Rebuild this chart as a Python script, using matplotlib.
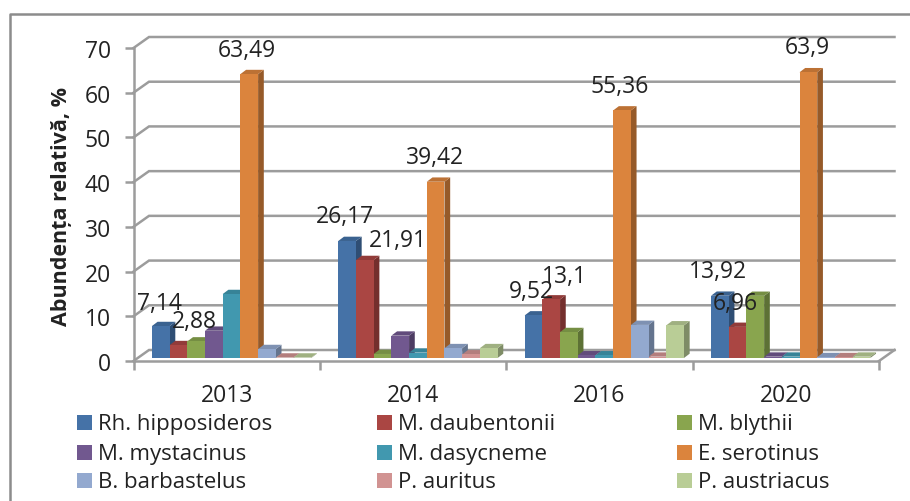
import matplotlib
matplotlib.use('Agg')
import matplotlib.pyplot as plt
from matplotlib.patches import Polygon, Rectangle

years = ['2013', '2014', '2016', '2020']
species = ['Rh. hipposideros', 'M. daubentonii', 'M. blythii',
           'M. mystacinus', 'M. dasycneme', 'E. serotinus',
           'B. barbastelus', 'P. auritus', 'P. austriacus']

v2013 = [7.14, 2.88, 3.7, 6.1, 14.3, 63.49, 2.0, 0.1, 0.1]
v2014 = [26.17, 21.91, 0.9, 5.0, 1.2, 39.42, 2.2, 0.8, 2.2]
v2016 = [9.52, 13.1, 5.8, 0.6, 0.6, 55.36, 7.4, 0.3, 7.3]
v2020 = [13.92, 6.96, 13.9, 0.3, 0.3, 63.9, 0.2, 0.2, 0.3]
values = [v2013, v2014, v2016, v2020]

# which bars carry a label: (group, series, text)
labels = [(0, 0, '7,14'), (0, 1, '2,88'), (0, 5, '63,49'),
          (1, 0, '26,17'), (1, 1, '21,91'), (1, 5, '39,42'),
          (2, 0, '9,52'), (2, 1, '13,1'), (2, 5, '55,36'),
          (3, 0, '13,92'), (3, 1, '6,96'), (3, 5, '63,9')]
# label offset from the bar top, pixels
offsets = [(-1, 23), (16, 24), (-2, 24),
           (-2, 25), (33, 20), (-1, 25),
           (-2, 24), (13, 23), (-2, 24),
           (-2, 25), (-2, 24), (-1, 25)]

front = ['#4572A7', '#AA4643', '#89A54E', '#71588F', '#4198AF',
         '#DB843D', '#93A9CF', '#D19392', '#B9CD96']
side = ['#2F4E74', '#742F2D', '#5D7135', '#4D3C62', '#2C6878',
        '#965A29', '#64748E', '#8F6463', '#7E8C66']
top = ['#3A6290', '#923B39', '#758E43', '#614B7B', '#378397',
       '#BC7134', '#7E91B2', '#B37E7D', '#9FB081']

FW, FH = 910, 502
X0, X1, Y0, Y70 = 133.5, 879.0, 362.0, 49.0
font = ['Open Sans', 'DejaVu Sans']
plt.rcParams['font.family'] = font
txt = '#222222'
gray = '#9c9c9c'

fig = plt.figure(figsize=(FW / 100, FH / 100), dpi=100)
ax = fig.add_axes([X0 / FW, 1 - Y0 / FH, (X1 - X0) / FW, (Y0 - Y70) / FH])
ax.set_xlim(0, 4)
ax.set_ylim(0, 70)
ax.patch.set_visible(False)

px_x = 4 / (X1 - X0)       # data units per pixel
px_y = 70 / (Y0 - Y70)
wall_dx, wall_dy = 15.5 * px_x, 11 * px_y
bar_w = 17.7 * px_x
start = 18.4 * px_x
base = 3 * px_y
dep_x, dep_y = 5.7 * px_x, 4.3 * px_y

# outer frame, no right or bottom edge in the crop
fig.add_artist(plt.Line2D([9.5 / FW, 9.5 / FW, 1], [0, 1 - 14.5 / FH, 1 - 14.5 / FH],
                          color='#8c8c8c', lw=1.8))

# back wall lines and floor
for g in range(0, 71, 10):
    ax.plot([0, wall_dx, 4 + wall_dx], [g, g + wall_dy, g + wall_dy],
            color=gray, lw=1.8, clip_on=False, zorder=1,
            solid_joinstyle='miter')
ax.plot([4, 4 + wall_dx], [0, wall_dy], color=gray, lw=1.8, clip_on=False, zorder=1)
ax.add_patch(Polygon([(0, 0), (wall_dx, wall_dy), (4 + wall_dx, wall_dy), (4, 0)],
                     facecolor='white', edgecolor='none', zorder=0.5, clip_on=False))

for s in ['top', 'right']:
    ax.spines[s].set_visible(False)
for s in ['left', 'bottom']:
    ax.spines[s].set_color(gray)
    ax.spines[s].set_linewidth(1.8)

z = 3
for g, vals in enumerate(values):
    for i, v in enumerate(vals):
        x = g + start + i * bar_w
        ax.bar(x, v, width=bar_w, bottom=base, align='edge', color=front[i],
               zorder=z + 0.2, clip_on=False)
        h = base + v
        ax.add_patch(Polygon([(x + bar_w, base), (x + bar_w + dep_x, base + dep_y),
                              (x + bar_w + dep_x, h + dep_y), (x + bar_w, h)],
                             facecolor=side[i], edgecolor='none', zorder=z, clip_on=False))
        ax.add_patch(Polygon([(x, h), (x + dep_x, h + dep_y),
                              (x + bar_w + dep_x, h + dep_y), (x + bar_w, h)],
                             facecolor=top[i], edgecolor='none', zorder=z + 0.1, clip_on=False))
        z += 1

for (g, i, t), off in zip(labels, offsets):
    x = g + start + (i + 0.5) * bar_w
    ax.annotate(t, xy=(x, base + values[g][i]), xytext=off,
                textcoords='offset pixels', ha='center', va='center',
                fontsize=16.5, color=txt, zorder=100, annotation_clip=False)

ax.set_yticks(range(0, 71, 10))
ax.set_xticks(range(5))
ax.set_xticklabels([])
ax.set_xticks([0.5, 1.5, 2.5, 3.5], minor=True)
ax.set_xticklabels(years, minor=True)
ax.tick_params(axis='y', length=6.2, width=1.8, color=gray, labelsize=16.5,
               labelcolor=txt, pad=10)
ax.tick_params(axis='x', which='major', length=6.5, width=1.8, color=gray)
ax.tick_params(axis='x', which='minor', length=0, labelsize=16.5, labelcolor=txt, pad=16)

fig.text(61 / FW, 1 - 206 / FH, 'Abundența relativă, %', rotation=90, ha='center',
         va='center', fontsize=15.5, fontweight='bold', color=txt)

# legend, three fixed columns
col_x = [77, 377, 677]
row_y = [423, 453, 481]
for n, name in enumerate(species):
    cx = col_x[n % 3]
    cy = row_y[n // 3]
    fig.add_artist(Rectangle((cx / FW, 1 - (cy + 7.5) / FH), 15 / FW, 15 / FH,
                             transform=fig.transFigure, facecolor=front[n], edgecolor='none'))
    fig.text((cx + 21) / FW, 1 - (cy + 1.5) / FH, name, ha='left', va='center',
             fontsize=16, color=txt)

fig.savefig('out.png', dpi=100)
